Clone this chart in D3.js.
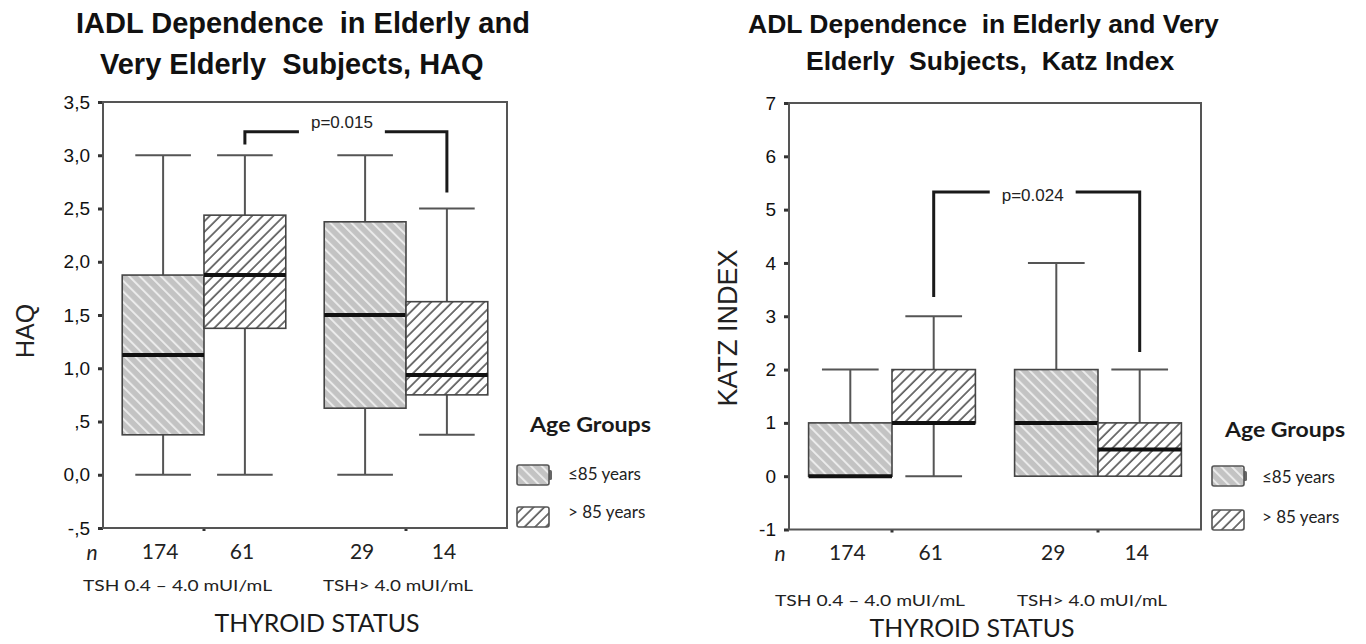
<!DOCTYPE html>
<html>
<head>
<meta charset="utf-8">
<script src="https://cdn.jsdelivr.net/npm/d3@7"></script>
<style>
  body { margin: 0; background: #fff; }
  text { white-space: pre; }
</style>
</head>
<body>
<div id="image"></div>
<script>
// categories
var groups = ["TSH 0.4 \u2013 4.0 mUI/mL", "TSH> 4.0 mUI/mL"];
var ageGroups = ["\u226485 years", "> 85 years"];
var nCounts = [174, 61, 29, 14];

// HAQ boxplot stats, order: [normal ≤85, normal >85, high ≤85, high >85]
var haqMin = [0, 0, 0, 0.375];
var haqQ1  = [0.375, 1.375, 0.625, 0.75];
var haqMed = [1.125, 1.875, 1.5, 0.9375];
var haqQ3  = [1.875, 2.4375, 2.375, 1.625];
var haqMax = [3, 3, 3, 2.5];
var haqTicks = [-0.5, 0, 0.5, 1, 1.5, 2, 2.5, 3, 3.5];
var haqTickLabels = ["-,5", "0,0", ",5", "1,0", "1,5", "2,0", "2,5", "3,0", "3,5"];

// Katz index boxplot stats
var katzMin = [0, 0, 0, 0];
var katzQ1  = [0, 1, 0, 0];
var katzMed = [0, 1, 1, 0.5];
var katzQ3  = [1, 2, 2, 1];
var katzMax = [2, 3, 4, 2];
var katzTicks = [-1, 0, 1, 2, 3, 4, 5, 6, 7];
var katzTickLabels = ["-1", "0", "1", "2", "3", "4", "5", "6", "7"];

// significance brackets: [top, left end, right end] in data units
var haqBracket = [3.22, 3.10, 2.65];
var katzBracket = [5.33, 3.36, 2.33];

var svg = d3.select("#image").append("svg").attr("width", 1366).attr("height", 644);
var defs = svg.append("defs");

function hatch(id, bg, stroke, sw, angle, size) {
    var p = defs.append("pattern").attr("id", id)
        .attr("patternUnits", "userSpaceOnUse")
        .attr("width", size).attr("height", size)
        .attr("patternTransform", "rotate(" + angle + ")");
    p.append("rect").attr("width", size).attr("height", size).attr("fill", bg);
    p.append("line").attr("x1", 1).attr("y1", 0).attr("x2", 1).attr("y2", size)
        .attr("stroke", stroke).attr("stroke-width", sw);
}
hatch("hatchA", "#c3c3c3", "#ebebeb", 2, -45, 7.5);
hatch("hatchB", "#ffffff", "#3a3a3a", 1.4, 45, 7.5);
var fills = ["url(#hatchA)", "url(#hatchB)"];

var charts = [
    {
        title: ["IADL Dependence  in Elderly and", "Very Elderly  Subjects, HAQ"],
        titleX: [76, 100], titleY: [33, 74], titleSize: 29,
        yLabel: "HAQ", yLabelPos: [25, 331], yLabelSize: 25,
        box: [103, 507, 102, 528],
        domain: [-0.5, 3.5], ticks: haqTicks, tickLabels: haqTickLabels,
        stats: [haqMin, haqQ1, haqMed, haqQ3, haqMax],
        p: "p=0.015", bracket: haqBracket, pDy: -4,
        nY: 560, nX: 92, tshY: 591, tshDx: [-20, 18], tshLen: [189, 150],
        statusPos: [317, 632],
        legend: {x: 517, title: [530, 432, 121], rows: [465, 507], textX: 568, textY: [480, 518]}
    },
    {
        title: ["ADL Dependence  in Elderly and Very", "Elderly  Subjects,  Katz Index"],
        titleX: [748, 806], titleY: [33, 70], titleSize: 26.5,
        yLabel: "KATZ INDEX", yLabelPos: [728, 328], yLabelSize: 27,
        box: [789, 1201, 103, 529.5],
        domain: [-1, 7], ticks: katzTicks, tickLabels: katzTickLabels,
        stats: [katzMin, katzQ1, katzMed, katzQ3, katzMax],
        p: "p=0.024", bracket: katzBracket, pDy: 9,
        nY: 561, nX: 780, tshY: 606, tshDx: [-14, 22], tshLen: [190, 150],
        statusPos: [972, 637],
        legend: {x: 1212, title: [1225, 437, 120], rows: [466, 510], textX: 1262, textY: [483, 523]}
    }
];

charts.forEach(drawChart);

function drawChart(c) {
    var g = svg.append("g");
    var x = d3.scaleBand().domain(groups).range([c.box[0], c.box[1]]);
    var xa = d3.scaleBand().domain(ageGroups).range([0, x.bandwidth()]).paddingOuter(0.235);
    var y = d3.scaleLinear().domain(c.domain).range([c.box[3], c.box[2]]);
    var bw = xa.bandwidth();

    // titles
    c.title.forEach(function (t, i) {
        g.append("text").attr("x", c.titleX[i]).attr("y", c.titleY[i])
            .attr("font-family", "Liberation Sans, Arial, sans-serif").attr("font-weight", "bold")
            .attr("font-size", c.titleSize).attr("fill", "#111").text(t);
    });

    // y axis
    var ax = g.append("g").attr("transform", "translate(" + c.box[0] + ",0)")
        .call(d3.axisLeft(y).tickValues(c.ticks).tickSize(5).tickPadding(8)
            .tickFormat(function (d, i) { return c.tickLabels[i]; }));
    ax.select(".domain").remove();
    ax.selectAll("line").attr("stroke", "#333").attr("stroke-width", 3);
    ax.selectAll("text").attr("font-family", "Liberation Sans, Arial, sans-serif")
        .attr("font-size", 19).attr("fill", "#111");

    // bottom ticks at group centres
    var bx = g.append("g").attr("transform", "translate(0," + c.box[3] + ")")
        .call(d3.axisBottom(x).tickSize(3).tickFormat(""));
    bx.select(".domain").remove();
    bx.selectAll("line").attr("stroke", "#333").attr("stroke-width", 3);

    // frame
    g.append("rect").attr("x", c.box[0]).attr("y", c.box[2])
        .attr("width", c.box[1] - c.box[0]).attr("height", c.box[3] - c.box[2])
        .attr("fill", "none").attr("stroke", "#555").attr("stroke-width", 2);

    // y label
    g.append("text").attr("transform", "translate(" + c.yLabelPos[0] + "," + c.yLabelPos[1] + ") rotate(-90)")
        .attr("text-anchor", "middle").attr("dy", "0.35em")
        .attr("font-family", "Liberation Sans, Arial, sans-serif").attr("font-size", c.yLabelSize)
        .attr("fill", "#222").text(c.yLabel);

    // boxes
    var rows = d3.range(4).map(function (i) {
        return {
            grp: groups[Math.floor(i / 2)], age: ageGroups[i % 2], a: i % 2,
            min: c.stats[0][i], q1: c.stats[1][i], med: c.stats[2][i], q3: c.stats[3][i], max: c.stats[4][i]
        };
    });
    function cx(d) { return x(d.grp) + xa(d.age) + bw / 2; }
    var cap = bw * 0.34;

    var b = g.selectAll(".bx").data(rows).enter().append("g").attr("class", "bx");
    // whiskers
    b.filter(function (d) { return d.max > d.q3; }).append("line")
        .attr("x1", cx).attr("x2", cx).attr("y1", function (d) { return y(d.q3); })
        .attr("y2", function (d) { return y(d.max); });
    b.filter(function (d) { return d.max > d.q3; }).append("line")
        .attr("x1", function (d) { return cx(d) - cap; }).attr("x2", function (d) { return cx(d) + cap; })
        .attr("y1", function (d) { return y(d.max); }).attr("y2", function (d) { return y(d.max); });
    b.filter(function (d) { return d.min < d.q1; }).append("line")
        .attr("x1", cx).attr("x2", cx).attr("y1", function (d) { return y(d.q1); })
        .attr("y2", function (d) { return y(d.min); });
    b.filter(function (d) { return d.min < d.q1; }).append("line")
        .attr("x1", function (d) { return cx(d) - cap; }).attr("x2", function (d) { return cx(d) + cap; })
        .attr("y1", function (d) { return y(d.min); }).attr("y2", function (d) { return y(d.min); });
    b.selectAll("line").attr("stroke", "#555").attr("stroke-width", 2);

    b.append("rect")
        .attr("x", function (d) { return x(d.grp) + xa(d.age); })
        .attr("y", function (d) { return y(d.q3); })
        .attr("width", bw)
        .attr("height", function (d) { return y(d.q1) - y(d.q3); })
        .attr("fill", function (d) { return fills[d.a]; })
        .attr("stroke", "#444").attr("stroke-width", 1.6);
    b.append("line")
        .attr("x1", function (d) { return x(d.grp) + xa(d.age); })
        .attr("x2", function (d) { return x(d.grp) + xa(d.age) + bw; })
        .attr("y1", function (d) { return y(d.med); }).attr("y2", function (d) { return y(d.med); })
        .attr("stroke", "#111").attr("stroke-width", 4);

    // significance bracket between >85 boxes
    var xl = cx(rows[1]), xr = cx(rows[3]), yt = y(c.bracket[0]);
    var tx = (xl + xr) / 2 - 4;
    var pt = g.append("text").attr("x", tx).attr("y", yt + c.pDy).attr("text-anchor", "middle")
        .attr("font-family", "Liberation Sans, Arial, sans-serif").attr("font-size", 17)
        .attr("fill", "#222").text(c.p);
    var half = pt.node().getComputedTextLength() / 2 + 12;
    var br = g.append("g").attr("fill", "none").attr("stroke", "#1a1a1a").attr("stroke-width", 3);
    br.append("path").attr("d", "M" + xl + "," + y(c.bracket[1]) + "V" + yt + "H" + (tx - half));
    br.append("path").attr("d", "M" + (tx + half) + "," + yt + "H" + xr + "V" + y(c.bracket[2]));

    // n labels
    var font2 = "Lato, 'Open Sans', sans-serif";
    g.append("text").attr("x", c.nX).attr("y", c.nY).attr("text-anchor", "middle")
        .attr("font-family", font2).attr("font-style", "italic").attr("font-size", 21)
        .attr("fill", "#222").text("n");
    g.selectAll(".nl").data(rows).enter().append("text")
        .attr("x", function (d) { return cx(d) - 3; }).attr("y", c.nY - 1).attr("text-anchor", "middle")
        .attr("font-family", font2).attr("font-size", 21).attr("fill", "#222")
        .text(function (d, i) { return nCounts[i]; });

    // group labels
    groups.forEach(function (gr, i) {
        g.append("text").attr("x", x(gr) + c.tshDx[i]).attr("y", c.tshY)
            .attr("font-family", font2).attr("font-size", 15.5).attr("fill", "#222")
            .attr("textLength", c.tshLen[i]).attr("lengthAdjust", "spacingAndGlyphs").text(gr);
    });
    g.append("text").attr("x", c.statusPos[0]).attr("y", c.statusPos[1]).attr("text-anchor", "middle")
        .attr("font-family", font2).attr("font-size", 25).attr("fill", "#1a1a1a")
        .attr("textLength", 205).attr("lengthAdjust", "spacingAndGlyphs").text("THYROID STATUS");

    // legend
    var L = c.legend;
    g.append("text").attr("x", L.title[0]).attr("y", L.title[1])
        .attr("font-family", font2).attr("font-weight", "bold").attr("font-size", 21).attr("fill", "#1a1a1a")
        .attr("textLength", L.title[2]).attr("lengthAdjust", "spacingAndGlyphs").text("Age Groups");
    ageGroups.forEach(function (a, i) {
        if (i === 0) {
            g.append("rect").attr("x", L.x + 31).attr("y", L.rows[i] + 5).attr("width", 4).attr("height", 10)
                .attr("rx", 1.5).attr("fill", "#666");
        }
        g.append("rect").attr("x", L.x).attr("y", L.rows[i]).attr("width", 32).attr("height", 20)
            .attr("rx", 2).attr("fill", fills[i]).attr("stroke", "#555").attr("stroke-width", 1.6);
        g.append("text").attr("x", L.textX).attr("y", L.textY[i])
            .attr("font-family", font2).attr("font-size", 17).attr("fill", "#222").text(a);
    });
}
</script>
</body>
</html>
